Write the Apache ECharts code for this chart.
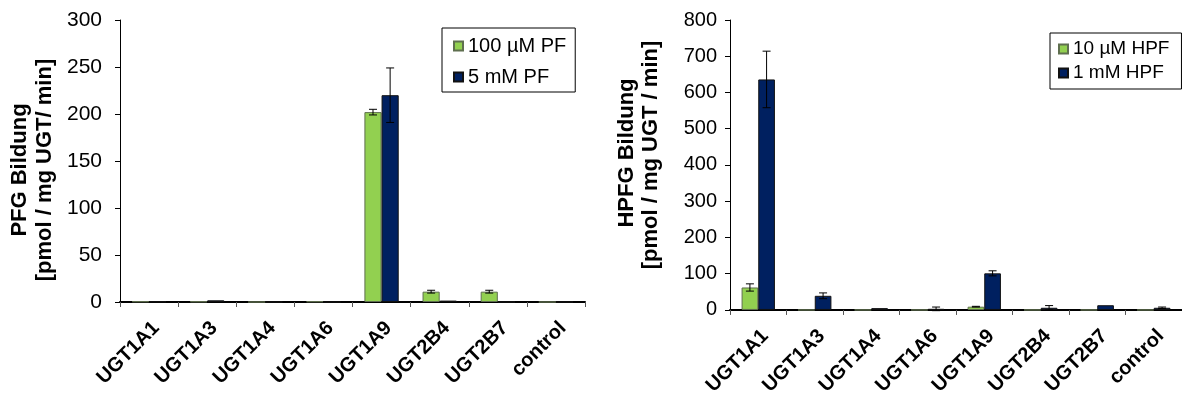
<!DOCTYPE html>
<html>
<head>
<meta charset="utf-8">
<script src="https://cdn.jsdelivr.net/npm/echarts@6/dist/echarts.min.js"></script>
<style>
  html, body { margin: 0; padding: 0; background: #fff; }
  #chart { width: 1182px; height: 398px; }
</style>
</head>
<body>
<div id="chart"></div>
<script>
// UGT isoforms tested
const categories = ['UGT1A1', 'UGT1A3', 'UGT1A4', 'UGT1A6', 'UGT1A9', 'UGT2B4', 'UGT2B7', 'control'];

// PFG formation (pmol / mg UGT / min)
const pf100uM = [0.6, 0.5, 0, 0.6, 202, 11, 11, 0];
const pf100uMErr = [0, 0, 0, 0, 3, 1.5, 1.5, 0];
const pf5mM = [0.5, 1.8, 0, 0, 220, 1.5, 0, 0];
const pf5mMErr = [0, 0, 0, 0, 29, 0, 0, 0];

// HPFG formation (pmol / mg UGT / min)
const hpf10uM = [62, 0, 0, 0, 9, 0, 0, 0];
const hpf10uMErr = [10, 0, 0, 0, 1, 0, 0, 0];
const hpf1mM = [636, 39, 5, 3, 101, 6, 13, 6];
const hpf1mMErr = [78, 8, 0, 5, 7, 6, 0, 2];

const pfTicks = { min: 0, max: 300, interval: 50 };
const hpfTicks = { min: 0, max: 800, interval: 100 };

const FONT = '"Liberation Sans", Arial, sans-serif';
const GREEN = '#92D050';
const NAVY = '#002060';
const CAT_GAP = 0.41;

const chart = echarts.init(document.getElementById('chart'), null, { renderer: 'canvas' });

// Error bar drawn over the bar at side (-1 left, +1 right) of each category
function errorBars(side) {
  return function (params, api) {
    const i = api.value(0), v = api.value(1), e = api.value(2);
    if (!e) return null;
    const band = api.size([1, 0])[0];
    const bw = band * (1 - CAT_GAP) / 2;
    const cx = api.coord([i, v])[0] + side * bw / 2;
    const top = api.coord([i, v + e])[1];
    const bot = api.coord([i, v - e])[1];
    const cap = 4;
    const st = { stroke: '#000', lineWidth: 1 };
    return {
      type: 'group',
      children: [
        { type: 'line', shape: { x1: cx, y1: top, x2: cx, y2: bot }, style: st },
        { type: 'line', shape: { x1: cx - cap, y1: top, x2: cx + cap, y2: top }, style: st },
        { type: 'line', shape: { x1: cx - cap, y1: bot, x2: cx + cap, y2: bot }, style: st }
      ]
    };
  };
}

function errData(vals, errs) {
  return vals.map((v, i) => [i, v, errs[i]]);
}

function xAxisCfg(gridIndex) {
  return {
    type: 'category', gridIndex, data: categories,
    axisLine: { lineStyle: { color: '#000', width: 2 } },
    axisTick: { show: true, length: 5, lineStyle: { color: '#555', width: 1 } },
    axisLabel: {
      rotate: 45, margin: 16, color: '#000', fontFamily: FONT,
      fontSize: 20, fontWeight: 'bold', interval: 0, verticalAlign: 'top'
    },
    splitLine: { show: false }
  };
}

function yAxisCfg(gridIndex, ticks, margin, size) {
  return {
    type: 'value', gridIndex, min: ticks.min, max: ticks.max, interval: ticks.interval,
    axisLine: { show: true, lineStyle: { color: '#000', width: 1 } },
    axisTick: { show: true, length: 5, lineStyle: { color: '#000', width: 1 } },
    axisLabel: { margin, color: '#000', fontFamily: FONT, fontSize: size },
    splitLine: { show: false }
  };
}

function barSeries(name, data, color, border, axis) {
  return {
    name, type: 'bar', data, xAxisIndex: axis, yAxisIndex: axis,
    barGap: '0%', barCategoryGap: (CAT_GAP * 100) + '%',
    itemStyle: { color, borderColor: border, borderWidth: 1 },
    emphasis: { disabled: true },
    animation: false
  };
}

function errSeries(data, side, axis) {
  return {
    type: 'custom', xAxisIndex: axis, yAxisIndex: axis, z: 5,
    renderItem: errorBars(side), data, animation: false, silent: true
  };
}

function titleText(x, y, text) {
  return {
    type: 'text', x, y, rotation: Math.PI / 2,
    style: {
      text, fill: '#000', font: 'bold 22px ' + FONT,
      align: 'center', verticalAlign: 'middle'
    }
  };
}

chart.setOption({
  animation: false,
  backgroundColor: '#fff',
  grid: [
    { left: 120, top: 20, width: 465, height: 282 },
    { left: 730, top: 20, width: 453, height: 290 }
  ],
  xAxis: [xAxisCfg(0), xAxisCfg(1)],
  yAxis: [yAxisCfg(0, pfTicks, 18, 21), yAxisCfg(1, hpfTicks, 13, 20)],
  legend: [
    {
      data: ['100 µM PF', '5 mM PF'], orient: 'vertical', left: 442, top: 28,
      padding: [7, 9, 4, 11], itemGap: 9, itemWidth: 9, itemHeight: 9, itemTextGap: 5,
      borderColor: '#000', borderWidth: 1, icon: 'rect',
      textStyle: { color: '#000', fontFamily: FONT, fontSize: 20, lineHeight: 22 },
      selectedMode: false
    },
    {
      data: ['10 µM HPF', '1 mM HPF'], orient: 'vertical', left: 1050, top: 33,
      padding: [5, 12, 5, 8], itemGap: 2, itemWidth: 9, itemHeight: 9, itemTextGap: 5,
      borderColor: '#000', borderWidth: 1, icon: 'rect',
      textStyle: { color: '#000', fontFamily: FONT, fontSize: 19, lineHeight: 22 },
      selectedMode: false
    }
  ],
  graphic: [
    titleText(20, 170, 'PFG Bildung'),
    titleText(45, 170, '[pmol / mg UGT/ min]'),
    titleText(627, 153, 'HPFG Bildung'),
    titleText(651, 155, '[pmol / mg UGT / min]')
  ],
  series: [
    barSeries('100 µM PF', pf100uM, GREEN, '#5f6f4f', 0),
    barSeries('5 mM PF', pf5mM, NAVY, '#111', 0),
    errSeries(errData(pf100uM, pf100uMErr), -1, 0),
    errSeries(errData(pf5mM, pf5mMErr), 1, 0),
    barSeries('10 µM HPF', hpf10uM, GREEN, '#5f6f4f', 1),
    barSeries('1 mM HPF', hpf1mM, NAVY, '#111', 1),
    errSeries(errData(hpf10uM, hpf10uMErr), -1, 1),
    errSeries(errData(hpf1mM, hpf1mMErr), 1, 1)
  ]
});
</script>
</body>
</html>
